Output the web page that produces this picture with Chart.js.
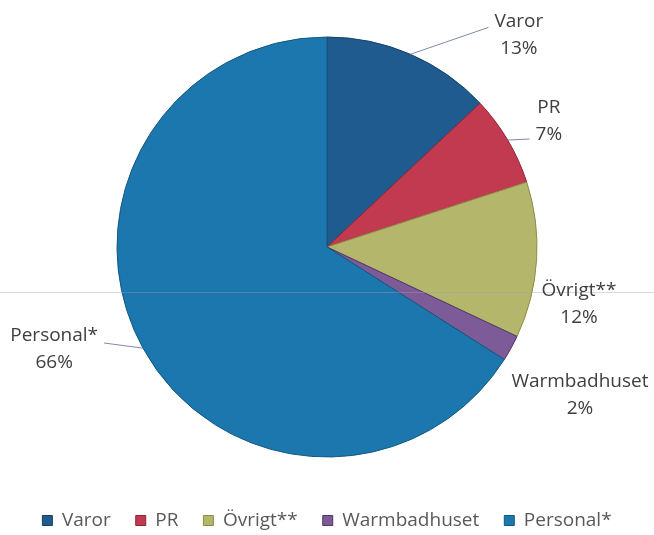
<!DOCTYPE html>
<html>
<head>
<meta charset="utf-8">
<script src="https://cdn.jsdelivr.net/npm/chart.js@4/dist/chart.umd.min.js"></script>
<style>
  html, body { margin: 0; padding: 0; background: #fff; }
  #wrap { width: 654px; height: 535px; }
</style>
</head>
<body>
<div id="wrap"><canvas id="chart"></canvas></div>
<script>
// data
const categories = ['Varor', 'PR', 'Övrigt**', 'Warmbadhuset', 'Personal*']
const shares = [13, 7, 12, 2, 66]

const fills = ['#205b90', '#c23a50', '#b4b66c', '#7c5b98', '#1b77ae']
const edges = ['#163f66', '#8e2438', '#8c8d45', '#4f3668', '#14587f']

// where each outside label sits: angle clockwise from top (deg), distance in radii
const labelPlacement = [
  { angle: 42.2, dist: 1.36, leader: true, leaderDy: -8 },
  { angle: 60.4, dist: 1.215, leader: true, leaderDy: 18 },
  { angle: 102.7, dist: 1.23, leader: false },
  { angle: 120.3, dist: 1.395, leader: false },
  { angle: 249.5, dist: 1.387, leader: true, leaderDy: -6 },
]

const outsideLabels = {
  id: 'outsideLabels',
  afterDatasetsDraw(chart) {
    const ctx = chart.ctx
    const meta = chart.getDatasetMeta(0)

    // faint scan line across the page
    ctx.save()
    ctx.strokeStyle = 'rgba(160,160,175,0.4)'
    ctx.lineWidth = 1
    ctx.beginPath()
    ctx.moveTo(0, 292.5)
    ctx.lineTo(chart.width, 292.5)
    ctx.stroke()

    ctx.font = '19px "Open Sans"'
    ctx.textAlign = 'center'
    ctx.textBaseline = 'middle'
    meta.data.forEach((arc, i) => {
      const { x, y, outerRadius, startAngle, endAngle } =
        arc.getProps(['x', 'y', 'outerRadius', 'startAngle', 'endAngle'], true)
      const p = labelPlacement[i]
      const a = (p.angle - 90) * Math.PI / 180
      const lx = x + Math.cos(a) * outerRadius * p.dist
      const ly = y + Math.sin(a) * outerRadius * p.dist
      const lines = [categories[i], shares[i] + '%']

      if (p.leader) {
        const mid = (startAngle + endAngle) / 2
        const ex = x + Math.cos(mid) * outerRadius
        const ey = y + Math.sin(mid) * outerRadius
        const w = Math.max(...lines.map(t => ctx.measureText(t).width))
        const side = lx > x ? -1 : 1
        ctx.strokeStyle = '#7d8ca3'
        ctx.beginPath()
        ctx.moveTo(ex, ey)
        ctx.lineTo(lx + side * (w / 2 + 6), ly + p.leaderDy)
        ctx.stroke()
      }

      ctx.fillStyle = '#404040'
      ctx.fillText(lines[0], lx, ly - 13.5)
      ctx.fillText(lines[1], lx, ly + 13.5)
    })
    ctx.restore()
  }
}

new Chart(document.getElementById('chart'), {
  type: 'pie',
  data: {
    labels: categories,
    datasets: [
      {
        data: shares,
        backgroundColor: fills,
        borderColor: edges,
        borderWidth: 1,
      },
    ],
  },
  options: {
    responsive: true,
    maintainAspectRatio: false,
    animation: false,
    radius: 210,
    layout: { padding: { top: 8, left: 0, right: 0, bottom: -5 } },
    plugins: {
      tooltip: { enabled: false },
      legend: {
        position: 'bottom',
        labels: {
          boxWidth: 10,
          boxHeight: 10,
          padding: 25,
          color: '#595959',
          font: { family: 'Open Sans', size: 19 },
        },
      },
    },
  },
  plugins: [outsideLabels],
})
</script>
</body>
</html>
